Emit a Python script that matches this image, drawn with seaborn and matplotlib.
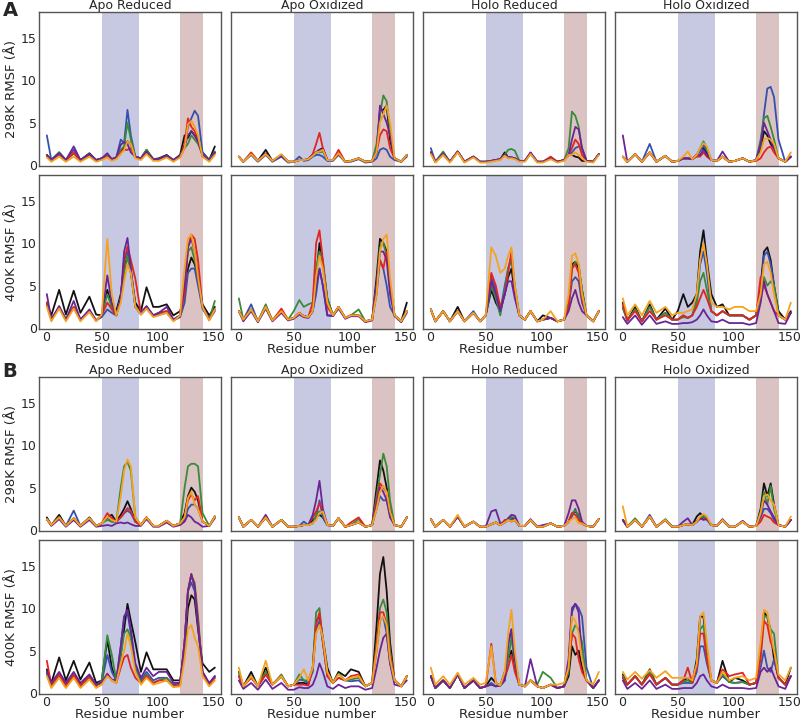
import matplotlib
matplotlib.use("Agg")
import matplotlib.pyplot as plt
import pandas as pd
import seaborn as sns

sns.set_style("white")
plt.rcParams["font.family"] = ["DejaVu Sans"]

residues = [1, 5, 12, 18, 25, 31, 39, 45, 50, 55, 59, 63, 67, 70, 73, 76,
            80, 85, 90, 96, 101, 108, 114, 120, 124, 127, 130, 133, 136, 140, 146, 151]

systems = ["Apo Reduced", "Apo Oxidized", "Holo Reduced", "Holo Oxidized"]
temps = ["298K", "400K"]
replicas = ["black", "blue", "green", "orange", "red", "purple"]
palette = {"black": "#111111", "blue": "#3550b0", "green": "#3a8a3a",
           "orange": "#f5a31e", "red": "#e3241f", "purple": "#6b2496"}
draw_order = ["black", "blue", "green", "red", "purple", "orange"]

# ---- panel A ----
A_298_apo_red = [
    [1.2,0.6,1.5,0.6,1.4,0.6,1.4,0.6,0.8,1.1,0.7,0.9,1.5,2.2,2.8,2.5,1.0,0.8,1.8,0.7,0.8,1.2,0.6,1.2,3.5,3.2,4.0,3.5,2.8,1.5,0.6,2.2],
    [3.5,0.6,1.3,0.6,1.8,0.6,1.2,0.6,0.8,1.2,0.7,0.9,3.0,2.6,6.5,3.5,1.0,0.8,1.6,0.7,0.7,1.0,0.6,1.0,2.0,4.5,5.5,6.4,5.8,1.5,0.6,1.5],
    [1.2,0.6,1.5,0.6,1.4,0.6,1.3,0.6,0.8,1.1,0.7,0.9,1.8,2.2,5.0,3.0,1.0,0.8,1.8,0.7,0.7,1.1,0.6,1.1,2.0,2.5,3.5,3.0,2.5,1.2,0.6,1.6],
    [0.9,0.4,1.0,0.4,1.0,0.4,1.0,0.4,0.6,0.9,0.5,0.7,1.3,1.8,2.8,2.5,0.8,0.6,1.3,0.5,0.5,0.9,0.4,0.9,2.0,4.8,5.2,4.5,3.5,1.0,0.4,1.2],
    [1.1,0.5,1.3,0.5,1.5,0.5,1.2,0.5,0.7,1.0,0.6,0.8,1.5,1.8,1.8,2.0,0.9,0.7,1.5,0.6,0.6,1.0,0.5,1.0,2.5,5.5,4.5,4.0,3.0,1.0,0.5,1.4],
    [1.2,0.6,1.4,0.6,2.2,0.6,1.3,0.6,0.8,1.4,0.7,0.9,2.4,2.7,2.5,1.5,1.0,0.8,1.6,0.7,0.7,1.1,0.6,1.1,2.2,3.5,4.0,3.5,2.8,1.2,0.6,1.5],
]
A_400_apo_red = [
    [3.0,1.5,4.5,1.6,4.4,1.8,3.7,1.6,1.5,4.5,2.5,2.0,4.0,7.0,8.5,6.5,3.0,2.0,4.8,2.5,2.5,2.8,1.5,2.0,4.0,7.0,8.3,7.5,6.0,2.8,1.5,2.5],
    [3.0,1.0,2.4,1.0,2.4,1.0,2.0,0.9,1.3,2.2,1.8,1.5,3.5,8.0,9.0,7.0,2.5,1.6,2.3,1.4,1.6,1.8,0.9,1.3,3.0,6.5,7.0,7.0,5.0,2.3,1.0,2.0],
    [3.0,1.0,2.5,1.0,2.5,1.0,2.0,0.9,1.5,4.0,2.5,1.5,3.5,6.5,8.5,6.5,2.5,1.8,2.5,1.5,1.8,2.0,1.0,1.5,5.0,9.0,9.5,8.0,6.0,2.5,1.0,3.2],
    [2.5,0.8,2.3,0.8,2.3,0.8,1.9,0.8,1.6,10.5,4.0,1.5,3.0,5.5,7.5,6.5,2.5,1.6,2.3,1.3,1.5,1.8,0.8,1.5,7.0,10.5,11.0,9.0,6.0,2.5,0.9,2.2],
    [3.0,1.0,2.5,1.0,2.5,1.0,2.0,0.9,1.5,3.0,2.2,1.5,3.5,8.0,9.6,8.0,5.8,1.8,2.5,1.5,1.8,2.0,1.0,1.5,4.0,9.5,11.0,10.5,8.0,2.5,1.0,2.2],
    [4.0,1.0,2.6,1.0,3.2,1.0,2.2,0.9,1.5,6.2,3.0,1.5,3.5,9.0,10.6,7.0,2.5,1.8,2.6,1.5,1.8,2.5,1.0,1.5,5.0,9.5,10.5,9.0,6.0,2.5,1.0,2.2],
]
A_298_apo_ox = [
    [1.0,0.4,1.4,0.5,1.8,0.5,1.2,0.4,0.4,0.6,0.6,0.7,1.2,1.5,1.8,2.0,0.6,0.6,1.4,0.4,0.5,0.8,0.4,0.5,1.5,6.5,6.5,7.0,3.0,0.8,0.4,1.2],
    [1.0,0.4,1.2,0.4,1.2,0.4,1.0,0.3,0.4,1.0,0.5,0.6,1.0,1.2,1.2,1.0,0.5,0.5,1.2,0.4,0.4,0.7,0.3,0.4,0.8,1.8,2.0,1.8,1.0,0.6,0.4,1.0],
    [1.0,0.4,1.3,0.5,1.3,0.5,1.2,0.4,0.4,0.6,0.6,0.7,1.2,1.5,1.5,1.6,0.6,0.6,1.4,0.4,0.5,0.8,0.4,0.5,2.5,6.0,8.2,7.5,4.0,0.8,0.4,1.2],
    [1.0,0.4,1.3,0.5,1.3,0.5,1.3,0.4,0.4,0.6,0.6,0.7,1.1,1.5,1.6,1.8,0.6,0.6,1.4,0.4,0.5,0.8,0.4,0.5,1.5,5.0,6.0,7.0,5.0,0.8,0.4,1.2],
    [1.0,0.4,1.5,0.5,1.3,0.5,1.2,0.4,0.4,0.6,0.6,0.7,1.3,2.5,3.8,2.0,0.6,0.6,1.8,0.4,0.5,0.8,0.4,0.5,1.5,3.5,4.2,4.0,2.0,0.8,0.4,1.2],
    [1.0,0.4,1.3,0.5,1.4,0.5,1.1,0.4,0.4,0.6,0.6,0.7,1.2,1.5,1.8,1.8,0.6,0.6,1.3,0.4,0.5,0.8,0.4,0.5,1.5,7.0,6.0,5.0,3.5,0.8,0.4,1.2],
]
A_400_apo_ox = [
    [2.0,1.0,2.2,0.8,2.5,0.9,2.0,1.0,1.2,1.8,1.4,1.3,2.0,6.0,10.0,7.5,3.5,1.5,2.5,1.2,1.5,1.5,0.8,1.0,6.0,10.5,10.0,9.0,5.0,1.5,0.8,3.0],
    [2.0,1.0,2.8,0.8,2.5,0.9,2.0,1.0,1.2,1.8,1.4,1.3,2.0,4.0,7.0,5.0,1.5,1.5,2.5,1.2,1.5,1.5,0.8,1.0,4.0,8.0,7.0,5.0,2.5,1.5,0.8,2.0],
    [3.5,1.0,2.2,0.8,2.8,0.9,2.0,1.0,2.0,3.3,2.5,2.8,3.0,7.0,9.0,8.0,3.5,1.5,2.5,1.2,1.5,2.2,0.8,1.0,5.0,9.5,10.0,8.5,5.0,1.5,0.8,2.0],
    [2.0,1.0,2.2,0.8,2.5,0.9,2.0,1.0,1.2,1.8,1.4,1.3,2.0,6.0,8.5,7.0,3.0,1.5,2.5,1.2,1.5,1.5,0.8,1.0,4.0,9.0,10.5,11.0,6.0,1.5,0.8,2.0],
    [2.0,1.0,2.2,0.8,2.5,0.9,2.3,1.0,1.2,1.8,1.4,1.3,3.0,10.0,11.5,8.0,2.5,1.5,2.5,1.2,1.5,1.5,0.8,1.0,5.0,8.0,7.0,9.0,5.0,1.5,0.8,2.0],
    [2.0,0.8,2.0,0.7,2.3,0.8,1.8,0.9,1.1,1.6,1.3,1.2,2.0,5.0,7.0,5.0,1.5,1.4,2.3,1.1,1.4,1.4,0.7,0.9,5.0,9.0,9.0,8.0,4.0,1.4,0.7,1.8],
]
A_298_holo_red = [
    [1.5,0.4,1.3,0.4,1.6,0.4,1.0,0.4,0.4,0.5,0.6,0.7,1.5,0.9,0.9,0.8,0.5,0.5,1.4,0.4,0.4,0.8,0.4,0.6,1.2,1.2,1.0,0.9,0.5,0.5,0.4,1.3],
    [2.0,0.4,1.3,0.4,1.6,0.4,1.0,0.4,0.4,0.5,0.6,0.7,1.2,0.9,0.9,0.8,0.5,0.5,1.4,0.4,0.4,0.8,0.4,0.6,1.2,1.5,2.0,2.2,2.0,0.5,0.4,1.3],
    [1.5,0.4,1.6,0.4,1.6,0.4,1.0,0.4,0.4,0.5,0.6,0.7,1.2,1.8,1.9,1.7,0.5,0.5,1.4,0.4,0.4,0.8,0.4,0.6,2.0,6.3,5.8,4.5,1.8,0.5,0.4,1.3],
    [1.3,0.3,1.2,0.3,1.5,0.3,0.9,0.3,0.3,0.4,0.5,0.6,1.1,0.8,0.8,0.7,0.4,0.4,1.3,0.3,0.3,0.7,0.3,0.5,1.2,1.2,1.5,1.2,0.8,0.4,0.3,1.2],
    [1.5,0.4,1.3,0.4,1.6,0.4,1.0,0.4,0.4,0.5,0.6,0.7,1.2,0.9,0.9,0.8,0.5,0.5,1.4,0.4,0.4,1.0,0.4,0.6,1.2,2.0,3.0,2.5,1.2,0.5,0.4,1.3],
    [1.5,0.4,1.4,0.4,1.6,0.4,1.0,0.4,0.4,0.5,0.6,0.7,1.2,0.9,0.9,0.8,0.5,0.5,1.5,0.4,0.4,0.8,0.4,0.6,1.2,3.0,4.5,4.2,2.0,0.5,0.4,1.3],
]
A_400_holo_red = [
    [2.2,0.8,2.0,0.8,2.5,0.8,1.8,0.8,1.5,4.5,3.0,2.0,4.0,6.0,7.0,4.0,1.5,1.0,2.0,0.8,1.5,1.2,0.8,1.0,3.0,7.5,7.8,7.0,4.5,1.5,0.8,2.0],
    [2.2,0.8,2.0,0.8,2.0,0.8,2.0,0.8,1.5,6.0,4.5,2.0,5.0,7.0,8.5,4.5,1.5,1.0,2.0,0.8,1.0,1.2,0.8,1.0,2.5,5.5,6.0,5.5,3.0,1.5,0.8,2.0],
    [2.2,0.8,2.0,0.8,2.0,0.8,1.8,0.8,1.5,5.0,3.5,1.5,4.5,7.0,8.0,5.0,1.5,1.0,2.0,0.8,1.0,1.2,0.8,1.0,2.5,7.0,7.8,7.5,4.5,1.5,0.8,2.0],
    [2.2,0.8,2.0,0.8,2.0,0.8,1.8,0.8,1.5,9.5,8.5,6.5,7.0,8.5,9.5,5.0,1.5,1.0,2.0,0.8,1.0,2.0,0.8,1.0,4.0,8.5,8.8,7.5,4.0,1.5,0.8,2.0],
    [2.2,0.8,2.0,0.8,2.0,0.8,1.8,0.8,1.5,6.5,5.0,2.5,4.0,6.5,9.0,4.5,1.5,1.0,2.0,0.8,1.0,1.2,0.8,1.0,2.5,7.0,7.5,6.5,3.5,1.5,0.8,2.0],
    [2.2,0.8,2.0,0.8,2.0,0.8,1.8,0.8,1.5,5.5,4.0,2.0,4.0,5.5,5.5,3.5,1.5,1.0,2.0,0.8,1.0,1.2,0.8,1.0,2.0,3.5,4.5,3.0,2.0,1.5,0.8,2.0],
]
A_298_holo_ox = [
    [1.0,0.4,1.3,0.4,1.5,0.4,1.1,0.4,0.5,0.8,0.8,0.7,1.2,1.8,2.0,1.4,0.6,0.5,1.0,0.4,0.5,0.8,0.4,0.6,1.8,4.0,3.5,2.5,2.0,0.8,0.4,1.0],
    [1.0,0.4,1.3,0.4,2.5,0.4,1.1,0.4,0.5,0.8,0.8,0.7,1.2,1.6,2.4,1.8,0.6,0.5,1.0,0.4,0.5,0.8,0.4,0.6,2.5,6.0,9.0,9.2,8.0,3.0,0.4,1.0],
    [1.0,0.4,1.3,0.4,1.5,0.4,1.1,0.4,0.5,0.8,0.8,0.7,1.2,2.0,2.8,2.0,0.6,0.5,1.0,0.4,0.5,0.8,0.4,0.6,3.0,5.5,5.8,4.5,3.0,0.8,0.4,1.0],
    [1.0,0.4,1.3,0.4,1.5,0.4,1.1,0.4,0.5,1.0,1.6,0.7,1.2,2.0,2.6,2.2,0.6,0.5,1.0,0.4,0.5,0.8,0.4,0.6,1.5,3.0,3.2,3.0,2.5,0.8,0.4,1.5],
    [1.0,0.4,1.3,0.4,1.5,0.4,1.1,0.4,0.5,0.8,0.8,0.7,1.0,1.0,1.5,1.0,0.6,0.5,1.0,0.4,0.5,0.8,0.4,0.5,0.8,1.5,2.0,2.2,1.5,0.8,0.4,1.0],
    [3.5,0.4,1.3,0.4,1.5,0.4,1.1,0.4,0.5,0.8,0.8,0.7,1.2,1.2,1.8,1.2,0.6,0.5,1.6,0.4,0.5,0.8,0.4,0.6,2.5,5.0,4.0,3.0,2.0,0.8,0.4,1.0],
]
A_400_holo_ox = [
    [3.0,0.9,2.5,0.8,2.8,1.0,2.3,1.0,2.0,4.0,2.5,3.0,4.0,9.0,11.5,8.0,4.0,2.5,2.8,1.5,1.5,1.5,1.0,1.5,5.0,9.0,9.5,8.0,5.0,2.0,1.0,2.0],
    [2.5,0.9,2.2,0.8,2.5,1.0,1.8,1.0,1.0,1.5,1.2,1.5,3.5,7.5,9.0,6.5,2.0,1.5,2.0,1.5,1.5,1.5,1.0,1.5,4.5,8.5,9.0,7.5,5.0,1.5,1.0,1.8],
    [2.3,0.9,2.2,0.8,2.5,1.0,1.8,1.0,1.0,1.3,1.2,1.5,3.0,5.5,6.5,4.5,2.0,1.5,2.0,1.5,1.5,1.5,1.0,1.5,4.0,6.0,5.0,5.5,5.0,1.5,1.0,1.8],
    [3.5,1.5,2.8,1.5,3.2,1.8,2.5,1.5,1.8,1.8,2.0,2.2,4.0,8.0,10.0,7.5,3.0,2.5,2.5,2.2,2.5,2.5,2.0,2.0,4.0,7.5,7.8,6.5,4.0,1.5,1.0,3.0],
    [2.8,0.9,2.0,0.8,2.0,1.0,1.5,1.0,1.0,1.5,1.2,1.5,2.5,3.5,4.5,3.5,2.0,1.5,2.0,1.5,1.5,1.5,1.0,1.5,6.0,5.0,4.0,3.0,2.0,1.5,1.0,1.8],
    [1.3,0.5,1.5,0.4,1.5,0.5,0.8,0.5,0.5,0.6,0.6,0.7,1.0,1.5,2.2,1.5,0.8,0.7,1.0,0.6,0.6,0.6,0.4,0.6,3.0,5.5,4.0,3.0,2.0,0.6,0.5,1.8],
]

# ---- panel B ----
B_298_apo_red = [
    [1.5,0.6,1.8,0.5,1.4,0.5,1.5,0.5,0.8,1.5,1.8,1.0,1.8,2.5,3.4,2.5,1.0,0.6,1.5,0.5,0.5,1.1,0.5,0.8,2.0,4.0,5.0,4.5,3.5,1.0,0.5,1.6],
    [1.3,0.6,1.5,0.5,2.3,0.5,1.4,0.5,0.8,1.5,1.0,1.0,1.5,2.0,2.3,2.0,1.0,0.6,1.5,0.5,0.5,1.1,0.5,0.8,1.2,2.5,3.0,3.0,2.5,1.0,0.5,1.6],
    [1.3,0.6,1.5,0.5,1.4,0.5,1.4,0.5,0.8,1.2,1.0,1.0,5.0,7.5,8.0,7.0,1.5,0.6,1.5,0.5,0.5,1.1,0.5,0.8,5.0,7.5,7.8,7.8,7.5,2.0,0.5,1.6],
    [1.3,0.6,1.5,0.5,1.4,0.5,1.4,0.5,0.8,1.6,1.2,1.0,4.0,7.0,8.3,7.5,1.5,0.6,1.5,0.5,0.5,1.1,0.5,0.8,1.5,3.8,4.5,3.0,2.5,1.0,0.5,1.6],
    [1.3,0.6,1.5,0.5,1.4,0.5,1.4,0.5,0.8,2.0,1.4,1.0,1.5,2.0,2.6,2.3,1.0,0.6,1.5,0.5,0.5,1.1,0.5,0.8,1.5,3.5,4.2,3.5,4.0,1.0,0.5,1.6],
    [1.3,0.5,1.3,0.4,1.2,0.4,1.2,0.4,0.5,0.6,0.5,0.8,0.9,0.8,0.9,0.7,0.5,0.5,1.3,0.4,0.4,0.9,0.4,0.6,1.0,1.8,1.5,1.0,0.8,0.4,0.5,1.4],
]
B_400_apo_red = [
    [2.8,1.2,4.2,1.5,3.8,1.6,3.6,1.2,1.5,6.3,3.0,1.5,4.5,7.5,10.5,8.5,6.0,2.5,4.8,2.8,2.8,2.8,1.5,1.5,5.0,10.0,11.5,11.0,7.5,3.5,2.5,3.0],
    [2.5,1.0,2.2,1.0,2.2,1.0,2.0,1.0,1.3,4.5,2.5,1.5,5.5,9.0,9.5,7.0,3.0,1.5,2.5,1.5,1.8,1.8,1.0,1.2,6.0,12.0,13.0,12.0,8.0,2.5,1.0,2.0],
    [2.2,0.8,2.0,0.8,2.0,0.8,1.8,0.8,1.5,6.8,4.5,1.5,4.5,7.0,7.5,6.5,3.0,1.2,2.2,1.2,1.5,1.8,0.8,1.0,6.0,12.0,13.8,13.0,9.0,2.5,1.0,1.8],
    [2.0,0.6,1.8,0.6,1.8,0.6,1.6,0.6,1.0,2.0,1.5,1.2,3.5,5.0,7.0,5.5,2.5,1.0,1.8,1.0,1.2,1.5,0.7,0.8,4.0,7.5,8.0,6.5,5.5,2.0,0.8,1.5],
    [3.8,1.0,2.2,0.9,2.2,0.9,2.0,0.9,1.2,2.3,1.5,1.2,3.0,4.2,4.5,3.0,1.8,1.2,2.0,1.2,1.5,1.5,0.8,1.0,6.0,12.0,14.0,12.5,8.5,2.5,1.0,1.8],
    [2.5,1.2,2.5,1.2,2.5,1.2,2.2,1.0,1.3,2.2,1.6,1.5,5.5,9.0,9.8,7.5,3.5,1.8,3.0,2.0,2.5,2.5,1.2,1.2,6.0,12.0,14.0,12.5,8.0,2.5,1.2,2.0],
]
B_298_apo_ox = [
    [1.5,0.4,1.2,0.4,1.5,0.4,1.2,0.4,0.4,0.5,0.6,0.6,1.2,1.5,1.8,1.5,0.6,0.5,1.4,0.4,0.6,0.9,0.4,0.6,5.0,8.2,7.0,5.0,2.5,0.6,0.4,1.5],
    [1.5,0.4,1.2,0.4,1.5,0.4,1.2,0.4,0.4,0.5,1.0,0.6,0.8,1.5,3.5,1.5,0.6,0.5,1.4,0.4,0.6,0.9,0.4,0.6,2.5,4.0,3.5,3.5,1.8,0.6,0.4,1.5],
    [1.5,0.4,1.2,0.4,1.5,0.4,1.2,0.4,0.4,0.5,0.6,0.6,0.8,1.8,2.2,2.0,0.6,0.5,1.4,0.4,0.6,1.3,0.4,0.6,4.0,6.5,9.0,7.5,3.5,0.6,0.4,1.5],
    [1.5,0.4,1.2,0.4,1.5,0.4,1.2,0.4,0.4,0.5,0.6,0.6,0.8,1.2,2.0,2.2,0.6,0.5,1.4,0.4,0.6,0.9,0.4,0.6,2.5,4.5,5.2,4.5,2.2,0.6,0.4,1.5],
    [1.5,0.4,1.2,0.4,1.5,0.4,1.2,0.4,0.4,0.5,0.6,0.6,1.5,2.2,3.2,2.2,0.6,0.5,1.4,0.4,0.9,1.5,0.4,0.6,3.5,5.5,5.0,4.5,2.0,0.6,0.4,1.5],
    [1.5,0.4,1.2,0.4,1.8,0.4,1.2,0.4,0.4,0.5,0.6,0.6,1.8,3.5,5.8,2.5,0.6,0.5,1.4,0.4,0.6,0.9,0.4,0.6,3.0,5.0,4.5,3.5,1.5,0.6,0.4,1.5],
]
B_400_apo_ox = [
    [2.5,0.8,2.5,0.8,3.0,1.0,2.0,0.8,1.0,1.2,1.2,1.0,3.0,8.5,9.0,6.5,3.0,1.2,2.5,2.0,2.8,2.5,0.8,1.2,8.0,14.0,16.0,12.0,6.0,1.5,0.8,2.0],
    [2.0,0.8,2.0,0.8,2.2,1.0,2.0,0.8,1.0,1.6,1.5,1.2,2.5,7.5,8.5,6.0,2.0,1.2,1.8,1.5,1.4,1.5,0.8,1.2,5.0,8.5,9.0,7.0,3.5,1.5,0.8,2.0],
    [2.5,0.8,2.0,0.8,2.5,1.0,2.2,0.8,1.0,2.2,1.5,1.5,3.0,9.5,10.0,6.0,2.5,1.2,2.3,1.5,1.6,1.8,0.8,1.2,6.0,10.0,11.0,9.5,5.0,1.5,0.8,2.0],
    [3.0,0.8,2.0,0.8,3.8,1.0,2.0,0.8,1.0,1.8,2.8,1.5,3.0,7.0,8.0,6.5,2.5,1.2,2.2,1.5,1.8,2.0,0.8,1.2,5.0,8.5,9.0,8.0,4.0,1.5,0.8,2.0],
    [2.0,0.8,1.8,0.8,2.2,1.0,2.0,0.8,1.0,1.0,1.0,0.9,3.0,8.0,9.5,6.0,2.0,1.2,1.8,1.5,2.0,2.2,0.8,1.2,5.5,9.5,9.5,8.0,4.5,1.5,0.8,2.0],
    [1.5,0.5,1.2,0.4,1.6,0.5,1.2,0.4,0.4,0.7,0.6,0.6,1.0,2.0,3.5,2.5,0.8,0.5,1.0,0.6,0.8,0.8,0.4,0.6,3.0,5.0,6.5,7.0,3.5,1.0,0.8,1.5],
]
B_298_holo_red = [
    [1.3,0.4,1.2,0.4,1.6,0.4,1.0,0.4,0.4,0.7,0.9,0.6,1.0,1.2,1.5,1.2,0.5,0.5,1.2,0.4,0.4,0.8,0.4,0.5,1.0,1.8,2.2,1.8,0.8,0.5,0.4,1.3],
    [1.3,0.4,1.2,0.4,1.6,0.4,1.0,0.4,0.4,0.7,0.9,0.6,0.9,1.3,1.3,1.2,0.5,0.5,1.2,0.4,0.4,0.8,0.4,0.5,1.0,1.6,2.5,1.3,0.8,0.5,0.4,1.3],
    [1.3,0.4,1.2,0.4,1.6,0.4,1.0,0.4,0.4,0.7,0.9,0.6,0.9,1.2,1.5,1.5,0.5,0.5,1.2,0.4,0.4,0.8,0.4,0.5,1.0,2.0,2.3,1.8,0.8,0.5,0.4,1.3],
    [1.3,0.4,1.2,0.4,1.8,0.4,1.0,0.4,0.4,0.7,0.9,0.6,0.9,1.2,1.0,1.2,0.5,0.5,1.2,0.4,0.4,0.8,0.4,0.5,1.0,1.3,1.5,0.8,0.8,0.5,0.4,1.3],
    [1.3,0.4,1.2,0.4,1.6,0.4,1.0,0.4,0.4,0.7,0.9,0.6,1.2,1.2,1.0,1.2,0.5,0.5,1.2,0.4,0.4,0.8,0.4,0.5,1.0,2.0,1.8,1.2,0.8,0.5,0.4,1.3],
    [1.3,0.4,1.2,0.4,1.6,0.4,1.0,0.4,0.4,2.2,2.4,0.8,0.9,1.4,1.8,1.7,0.5,0.5,1.3,0.4,0.6,0.8,0.4,0.5,2.0,3.5,3.5,2.5,1.0,0.5,0.4,1.3],
]
B_400_holo_red = [
    [2.0,0.6,1.5,0.6,2.2,0.6,1.5,0.6,0.8,1.8,1.2,0.9,2.5,4.0,5.0,3.0,1.0,0.8,1.5,0.8,0.6,1.0,0.6,0.8,2.0,5.5,4.5,5.0,3.0,1.5,0.6,1.5],
    [2.0,0.6,1.5,0.6,2.2,0.6,1.5,0.6,0.8,1.2,0.8,0.9,1.5,5.5,7.5,4.0,1.0,0.8,1.5,0.8,0.6,1.0,0.6,0.8,3.5,9.5,10.5,10.0,9.0,3.0,0.6,1.5],
    [2.0,0.6,1.5,0.6,2.2,0.6,1.5,0.6,0.8,1.0,0.8,0.9,1.5,4.0,6.5,3.5,1.0,0.8,1.5,1.0,2.5,1.8,0.6,0.8,2.5,7.0,8.0,7.5,6.0,1.5,0.6,1.5],
    [3.0,1.0,2.0,1.0,2.4,1.0,1.8,1.0,1.2,5.5,1.2,0.9,2.5,7.0,9.8,5.0,1.0,0.8,1.5,0.8,0.6,1.0,1.0,1.2,3.0,9.0,8.5,7.0,4.0,1.5,1.0,2.5],
    [2.0,0.6,1.5,0.6,2.2,0.6,1.5,0.6,0.8,5.8,1.2,0.9,1.8,3.0,4.5,2.5,1.0,0.8,1.5,0.8,0.6,1.0,0.6,0.8,3.0,7.0,6.5,4.0,2.5,1.5,0.6,1.5],
    [2.0,0.6,1.5,0.6,2.2,0.6,1.5,0.6,0.8,1.0,0.8,0.9,1.5,6.0,7.5,4.0,1.0,0.8,4.0,0.8,0.6,1.0,0.6,0.8,4.0,10.0,10.5,9.5,4.0,1.5,0.6,1.5],
]
B_298_holo_ox = [
    [1.2,0.4,1.2,0.4,1.6,0.4,1.2,0.4,0.4,0.6,0.7,0.6,1.6,2.0,1.5,1.3,0.6,0.5,1.2,0.4,0.4,1.0,0.4,0.5,2.5,5.5,4.0,5.5,3.0,0.6,0.4,1.2],
    [1.2,0.4,1.2,0.4,1.8,0.4,1.2,0.4,0.4,0.6,0.7,0.6,1.0,1.4,1.8,1.3,0.6,0.5,1.2,0.4,0.4,1.0,0.4,0.5,1.5,2.5,2.5,2.0,1.2,0.6,0.4,1.2],
    [1.2,0.4,1.4,0.4,1.6,0.4,1.3,0.4,0.4,0.6,0.7,0.6,1.0,1.4,1.6,1.3,0.6,0.5,1.2,0.4,0.4,1.0,0.4,0.5,2.2,4.5,3.0,5.2,2.5,0.6,0.4,1.2],
    [2.8,0.4,1.2,0.4,1.6,0.4,1.2,0.4,0.4,0.6,0.7,0.6,1.0,1.6,1.9,1.6,0.6,0.5,1.2,0.4,0.4,1.0,0.4,0.5,2.0,4.0,4.2,3.5,3.0,0.6,0.4,1.6],
    [1.2,0.4,1.2,0.4,1.6,0.4,1.2,0.4,0.4,0.6,0.7,0.6,1.0,1.4,1.3,1.3,0.6,0.5,1.2,0.4,0.4,1.0,0.4,0.5,1.0,1.8,1.6,1.4,0.9,0.6,0.4,1.2],
    [1.2,0.4,1.2,0.4,1.6,0.4,1.2,0.4,0.4,1.0,1.4,0.6,1.0,1.4,1.2,1.3,0.6,0.5,1.3,0.4,0.4,1.1,0.4,0.5,1.8,3.5,3.0,2.2,1.5,0.6,0.4,1.2],
]
B_400_holo_ox = [
    [2.2,1.0,2.0,1.0,2.8,1.0,1.8,1.0,1.0,1.5,1.8,1.2,4.0,9.0,9.0,5.0,1.5,1.2,3.8,1.3,1.8,1.5,1.0,1.2,5.0,9.5,9.0,7.0,4.0,1.8,1.0,3.0],
    [1.8,1.0,2.0,1.0,2.3,1.0,1.8,1.0,1.0,1.2,1.2,1.2,2.5,5.5,5.5,3.5,1.5,1.2,2.0,1.3,1.2,1.3,1.0,1.2,3.0,5.0,3.0,2.5,4.0,1.8,1.0,2.0],
    [2.0,1.0,2.0,1.0,2.5,1.0,1.8,1.0,1.0,1.3,1.5,1.2,3.0,7.5,8.0,4.5,1.5,1.2,2.3,1.3,1.2,1.3,1.0,1.2,5.0,9.0,9.0,7.5,7.0,1.8,1.0,2.0],
    [2.5,1.6,2.5,1.7,2.7,1.8,2.6,1.8,1.8,1.8,1.8,1.5,3.5,9.0,9.5,6.0,1.5,1.2,2.5,1.5,1.8,2.0,1.5,1.8,6.0,9.8,9.5,7.0,5.0,2.2,1.5,3.0],
    [1.8,1.0,2.0,1.0,2.2,1.0,1.8,1.0,1.0,1.5,3.0,1.2,3.0,7.0,7.0,4.0,1.5,1.2,2.8,2.0,2.2,2.4,1.0,1.2,4.0,8.5,8.0,6.0,5.0,1.8,1.0,2.0],
    [1.5,0.5,1.2,0.5,1.5,0.5,1.0,0.5,0.5,0.6,0.6,0.6,1.2,2.0,2.2,1.5,0.8,0.6,1.0,0.6,0.6,0.6,0.5,0.6,2.5,3.0,2.5,3.0,2.0,0.8,0.5,2.0],
]

groups = {
    "A": [[A_298_apo_red, A_298_apo_ox, A_298_holo_red, A_298_holo_ox],
          [A_400_apo_red, A_400_apo_ox, A_400_holo_red, A_400_holo_ox]],
    "B": [[B_298_apo_red, B_298_apo_ox, B_298_holo_red, B_298_holo_ox],
          [B_400_apo_red, B_400_apo_ox, B_400_holo_red, B_400_holo_ox]],
}

W, H = 803, 721
col_left = [39, 231, 423, 615]
row_top = {"A": [12, 175], "B": [377, 540]}
ax_w, ax_h = 182, 154

fig = plt.figure(figsize=(W / 100, H / 100), dpi=100)

for g, rows in groups.items():
    for r, row in enumerate(rows):
        for c, panel in enumerate(row):
            left = col_left[c] / W
            bottom = 1 - (row_top[g][r] + ax_h) / H
            ax = fig.add_axes([left, bottom, ax_w / W, ax_h / H])
            ax.axvspan(50, 83, color="#c6c9e1", lw=0, zorder=0)
            ax.axvspan(120, 140, color="#dcc3c3", lw=0, zorder=0)
            df = pd.DataFrame({
                "residue": residues * len(replicas),
                "rmsf": [v for vals in panel for v in vals],
                "replica": [name for name in replicas for _ in residues],
            })
            sns.lineplot(data=df, x="residue", y="rmsf", hue="replica",
                         hue_order=draw_order, palette=palette, linewidth=1.3,
                         legend=False, ax=ax)
            ax.set_xlim(-6, 156.5)
            ax.set_ylim(-0.1, 18)
            ax.set_xticks([0, 50, 100, 150])
            ax.set_yticks([0, 5, 10, 15])
            ax.tick_params(length=0, labelsize=9, pad=1.5)
            for sp in ax.spines.values():
                sp.set_color("#555555")
                sp.set_linewidth(1.0)
            if r == 0:
                ax.set_title(systems[c], fontsize=9, pad=1.5)
                ax.set_xticklabels([])
                ax.set_xlabel("")
            else:
                ax.set_xlabel("Residue number", fontsize=9.5, labelpad=-1)
            if c == 0:
                ax.set_ylabel(f"{temps[r]} RMSF (Å)", fontsize=9.5, labelpad=2)
            else:
                ax.set_yticklabels([])
                ax.set_ylabel("")

fig.text(0.003, 0.998, "A", fontsize=14, fontweight="bold", va="top")
fig.text(0.003, 0.498, "B", fontsize=14, fontweight="bold", va="top")

fig.savefig("out.png", dpi=100)
